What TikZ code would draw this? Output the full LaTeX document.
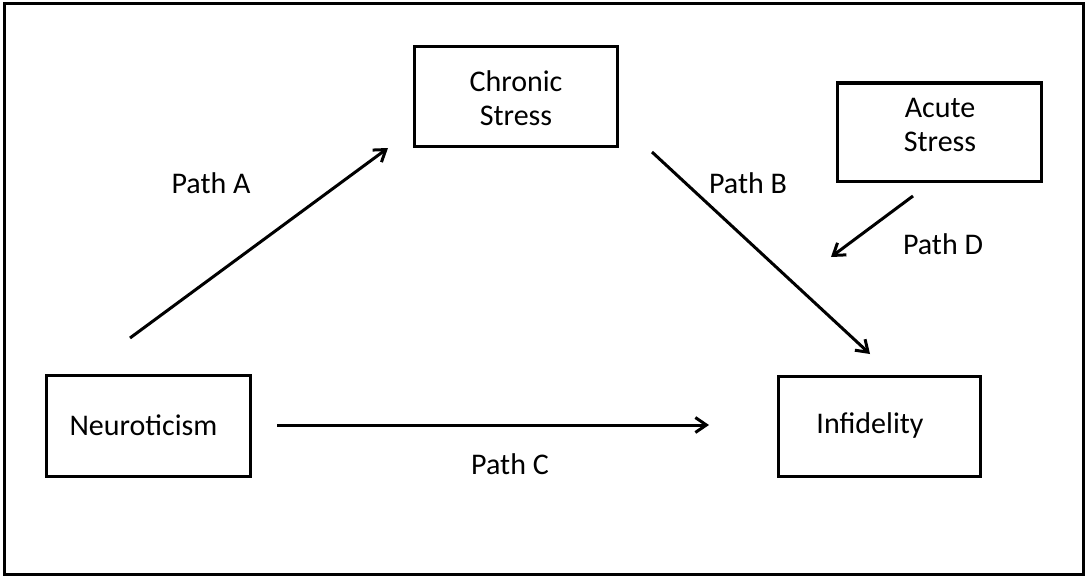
\documentclass[tikz,border=0pt]{standalone}
\usepackage{fontspec}
\setmainfont{Carlito}
\usetikzlibrary{arrows.meta}
\begin{document}
\begin{tikzpicture}[x=1pt,y=-1pt,
  every node/.style={font=\fontsize{30}{34.5}\selectfont, text=black},
  box/.style={draw=black, line width=3pt, rectangle, inner sep=0pt, align=center},
  lbl/.style={inner sep=0pt},
  arr/.style={line width=3pt, -{Straight Barb[length=11pt,width=15pt,line width=3pt]}}]
\useasboundingbox (0,0) rectangle (1087,578);
\draw[line width=3pt] (4,4) rectangle (1083,574);
\node[box, minimum width=203pt, minimum height=99pt] (chronic) at (515.5,96.5) {};
\node (chrt) at (516,98) [align=center] {Chronic\\Stress};
\node[box, minimum width=204pt, minimum height=98pt] (acute) at (939,132) {};
\node (acut) at (940,125) [align=center] {Acute\\Stress};
\node[box, minimum width=204pt, minimum height=101pt] (neuro) at (148,425.5) {};
\node (neut) at (143.5,425) {Neuroticism};
\node[box, minimum width=202pt, minimum height=100pt] (infid) at (879,426) {};
\node (inft) at (870,425) {Infidelity};
\coordinate (a1) at (130,338); \coordinate (a2) at (388,148);
\coordinate (b1) at (652,152); \coordinate (b2) at (870,354);
\coordinate (d1) at (913,196); \coordinate (d2) at (831,257);
\coordinate (c1) at (277,425); \coordinate (c2) at (709,425);
\draw[arr] (a1) -- (a2);
\draw[arr] (b1) -- (b2);
\draw[arr] (d1) -- (d2);
\draw[arr] (c1) -- (c2);
\node[lbl] (pa) at (211,183) {Path A};
\node[lbl] (pb) at (748,183) {Path B};
\node[lbl] (pd) at (943,244) {Path D};
\node[lbl] (pc) at (510,464) {Path C};
\end{tikzpicture}
\end{document}
